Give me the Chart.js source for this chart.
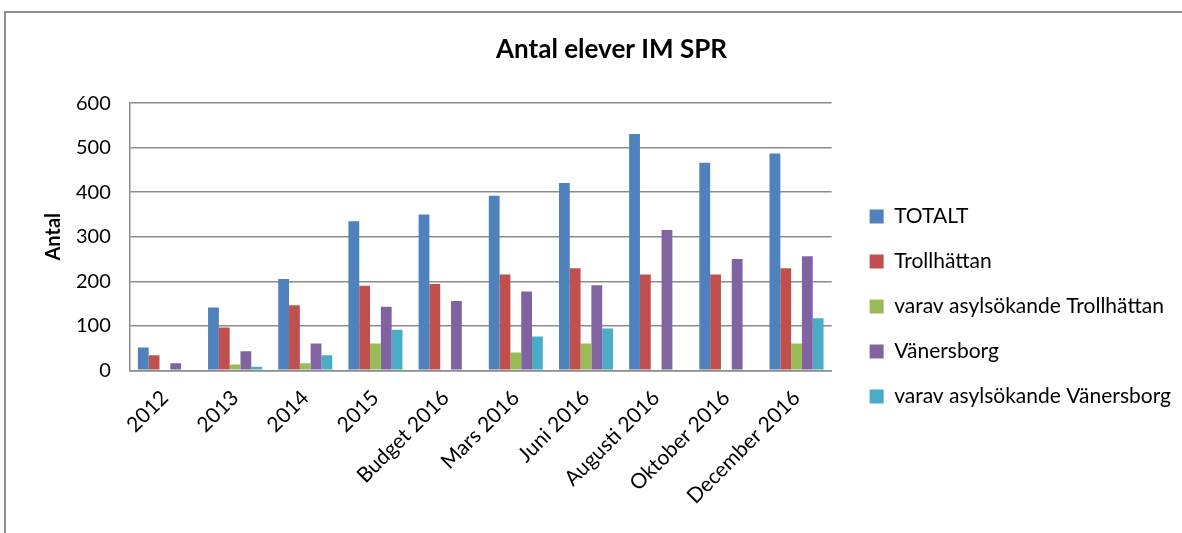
<!DOCTYPE html>
<html>
<head>
<meta charset="utf-8">
<script src="https://cdn.jsdelivr.net/npm/chart.js@4/dist/chart.umd.min.js"></script>
<style>
    html, body { margin: 0; padding: 0; background: #fff; overflow: hidden; }
    #wrap { position: relative; width: 1182px; height: 533px; overflow: hidden; }
    #frame {
        position: absolute; left: 4px; top: 11px; width: 1200px; height: 600px;
        border-left: 2px solid #8c8c8c; border-top: 2px solid #8c8c8c;
    }
    #box { position: absolute; left: 0; top: 0; width: 1181px; height: 533px; }
</style>
</head>
<body>
<div id="wrap">
    <div id="frame"></div>
    <div id="box"><canvas id="chart"></canvas></div>
</div>
<script>
// Categories and series
const categories = ['2012', '2013', '2014', '2015', 'Budget 2016', 'Mars 2016',
    'Juni 2016', 'Augusti 2016', 'Oktober 2016', 'December 2016'];
const totalt = [51, 141, 205, 335, 350, 392, 421, 531, 466, 487];
const trollhattan = [34, 96, 146, 190, 194, 215, 229, 215, 215, 229];
const asylTrollhattan = [null, 13, 16, 60, null, 40, 60, null, null, 60];
const vanersborg = [16, 43, 60, 143, 156, 177, 191, 315, 250, 256];
const asylVanersborg = [null, 8, 34, 91, null, 76, 94, null, null, 117];
const yTicks = [0, 100, 200, 300, 400, 500, 600];

const FONT = 'Lato, "Open Sans", sans-serif';

function series(label, data, color) {
    return {
        label: label,
        data: data,
        backgroundColor: color,
        borderWidth: 0,
        categoryPercentage: 0.77,
        barPercentage: 1.0
    };
}

new Chart(document.getElementById('chart'), {
    type: 'bar',
    data: {
        labels: categories,
        datasets: [
            series('TOTALT', totalt, '#4F81BD'),
            series('Trollhättan', trollhattan, '#C0504D'),
            series('varav asylsökande Trollhättan', asylTrollhattan, '#9BBB59'),
            series('Vänersborg', vanersborg, '#8064A2'),
            series('varav asylsökande Vänersborg', asylVanersborg, '#4BACC6')
        ]
    },
    options: {
        responsive: true,
        maintainAspectRatio: false,
        animation: false,
        layout: { padding: { left: 42, right: 0, top: 0, bottom: 9 } },
        plugins: {
            title: {
                display: true,
                text: 'Antal elever IM SPR',
                color: '#000',
                font: { family: FONT, size: 26, weight: 'bold' },
                padding: { top: 34, bottom: 38 }
            },
            legend: {
                position: 'right',
                maxWidth: 420,
                title: {
                    // empty title only pushes the items down
                    display: true,
                    text: '',
                    font: { size: 10 },
                    padding: { top: 77, bottom: 0 }
                },
                labels: {
                    color: '#000',
                    font: { family: FONT, size: 21 },
                    boxWidth: 14,
                    boxHeight: 14,
                    padding: 24
                }
            },
            tooltip: { enabled: false }
        },
        scales: {
            x: {
                grid: { display: false, drawTicks: false },
                border: { color: '#8c8c8c', width: 1.5 },
                ticks: {
                    color: '#000',
                    font: { family: FONT, size: 21 },
                    minRotation: 45,
                    maxRotation: 45,
                    padding: 15
                }
            },
            y: {
                min: 0,
                max: 600,
                afterBuildTicks: axis => { axis.ticks = yTicks.map(v => ({ value: v })); },
                grid: { color: '#8c8c8c', lineWidth: 1.5, drawTicks: false },
                border: { color: '#8c8c8c', width: 1.5 },
                ticks: {
                    color: '#000',
                    font: { family: FONT, size: 20 },
                    padding: 19
                },
                title: {
                    display: true,
                    text: 'Antal',
                    color: '#000',
                    font: { family: FONT, size: 20, weight: 'bold' },
                    padding: { top: 0, bottom: -9 }
                }
            },
            // empty spacer between plot and legend
            spacer: {
                type: 'linear',
                position: 'right',
                grid: { display: false, drawTicks: false },
                border: { display: false },
                ticks: { display: false },
                afterFit: scale => { scale.width = 14; }
            }
        }
    }
});
</script>
</body>
</html>
